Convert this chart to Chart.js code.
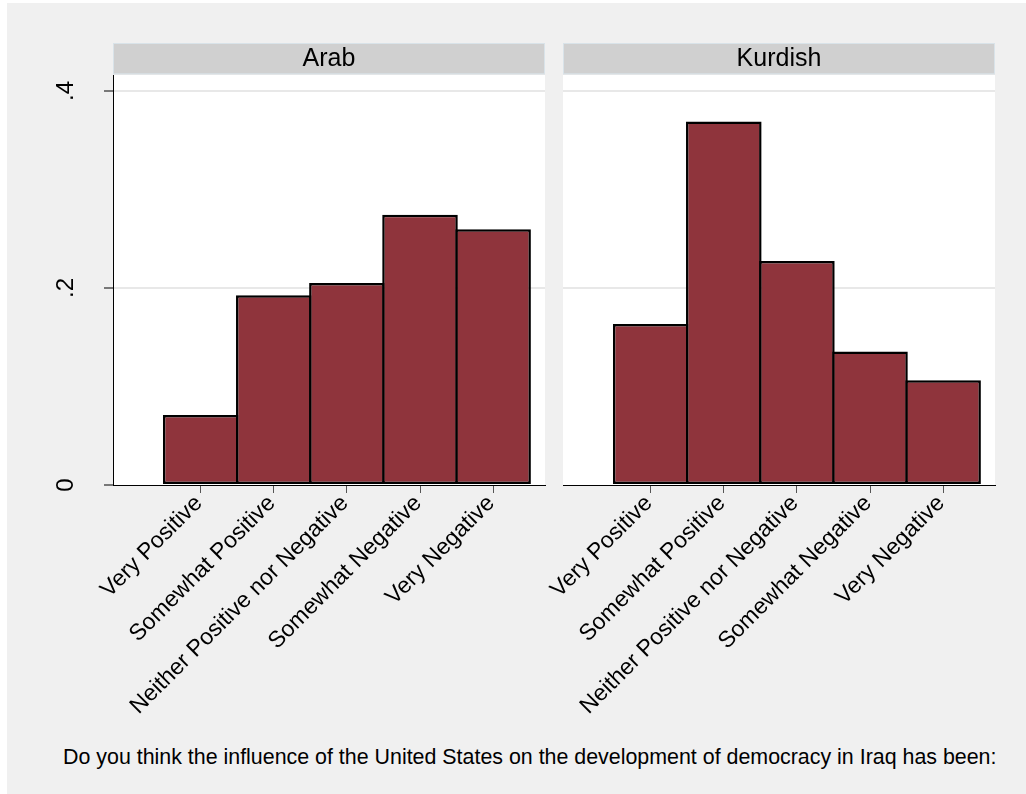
<!DOCTYPE html>
<html><head><meta charset="utf-8">
<script src="https://cdn.jsdelivr.net/npm/chart.js@4"></script>
<style>
html,body{margin:0;padding:0;background:#fff;width:1026px;height:794px;overflow:hidden;position:relative;}
#bg{position:absolute;left:7px;top:3px;right:0;bottom:0;background:#f0f0f0;}
canvas{position:absolute;top:0;}
#c1{left:0}
#c2{left:530px}
#note{position:absolute;left:63px;top:747px;font-family:"Liberation Sans",Arial,sans-serif;font-size:21.4px;line-height:21px;color:#000;white-space:nowrap;}
</style></head><body>
<div id="bg"></div>
<canvas id="c1" width="555" height="740"></canvas>
<canvas id="c2" width="496" height="740"></canvas>
<div id="note">Do you think the influence of the United States on the development of democracy in Iraq has been:</div>
<script>
const categories = ['Very Positive','Somewhat Positive','Neither Positive nor Negative','Somewhat Negative','Very Negative'];
const panelNames = ['Arab','Kurdish'];
const arabShares = [0.071, 0.1926, 0.205, 0.2744, 0.2596];
const kurdishShares = [0.1635, 0.3689, 0.2274, 0.1354, 0.1063];
const yTickValues = [0, 0.2, 0.4];
const yTickLabels = ['0', '.2', '.4'];
const xRange = [-0.2, 5.71];
const yMax = 0.4162;

const FAMILY = '"Liberation Sans", Arial, sans-serif';
Chart.defaults.font.family = FAMILY;
Chart.defaults.color = '#000';

const stripPlugin = {
  id: 'strip',
  beforeDraw(chart) {
    const {ctx, chartArea: a} = chart;
    const tb = chart.titleBlock;
    ctx.save();
    ctx.fillStyle = '#d0d0d0';
    ctx.fillRect(a.left, tb.top, a.right - a.left, a.top - tb.top - 0.7);
    ctx.strokeStyle = '#d9e3e9';
    ctx.lineWidth = 1;
    ctx.strokeRect(a.left + 0.5, tb.top + 0.5, a.right - a.left - 1, a.top - tb.top - 1.7);
    ctx.fillStyle = '#ffffff';
    ctx.fillRect(a.left, a.top, a.right - a.left, a.bottom - a.top);
    ctx.restore();
  }
};

function makeChart(id, name, shares, showY, padding) {
  return new Chart(document.getElementById(id), {
    type: 'bar',
    data: {
      datasets: [{
        data: shares.map((v, i) => ({x: i + 1, y: v})),
        backgroundColor: '#8f343c',
        borderColor: '#000',
        borderWidth: 2.5,
        borderSkipped: false,
        barPercentage: 1.034,
        categoryPercentage: 1
      }]
    },
    options: {
      responsive: false,
      animation: false,
      layout: {padding: padding},
      plugins: {
        legend: {display: false},
        tooltip: {enabled: false},
        title: {
          display: true, text: name, fullSize: false,
          font: {size: 25, weight: 'normal', lineHeight: 1.2},
          color: '#000', padding: {top: 1, bottom: 1}
        }
      },
      scales: {
        x: {
          type: 'linear', min: xRange[0], max: xRange[1], z: 1, offset: false,
          afterBuildTicks: s => { s.ticks = categories.map((c, i) => ({value: i + 1})); },
          afterFit: s => { s.height = 255; },
          ticks: {
            autoSkip: false, minRotation: 45, maxRotation: 45, padding: -3, labelOffset: -2,
            font: {size: 23}, color: '#000',
            callback: v => categories[Math.round(v) - 1]
          },
          grid: {drawOnChartArea: false, offset: false, tickLength: 8, tickColor: '#555', tickWidth: 1},
          border: {display: true, color: '#000', width: 1}
        },
        y: {
          min: 0, max: yMax,
          afterBuildTicks: s => { s.ticks = yTickValues.map(v => ({value: v})); },
          afterFit: s => { s.width = showY ? 113 : 0; },
          ticks: {
            display: showY,
            callback: v => yTickLabels[yTickValues.indexOf(v)],
            font: {size: 24}, color: '#000',
            minRotation: 90, maxRotation: 90, crossAlign: 'center', padding: 28
          },
          grid: {
            color: c => (c.tick && c.tick.value === 0) ? 'rgba(0,0,0,0)' : '#e8e8e8',
            lineWidth: 2,
            drawTicks: showY,
            tickLength: showY ? 9 : 0,
            tickColor: '#000', tickWidth: 1
          },
          border: {display: showY, color: '#000', width: 1}
        }
      }
    },
    plugins: [stripPlugin]
  });
}

makeChart('c1', panelNames[0], arabShares, true, {left: 0, right: 10, top: 43, bottom: 0});
makeChart('c2', panelNames[1], kurdishShares, false, {left: 33, right: 31, top: 43, bottom: 0});
</script>
</body></html>
